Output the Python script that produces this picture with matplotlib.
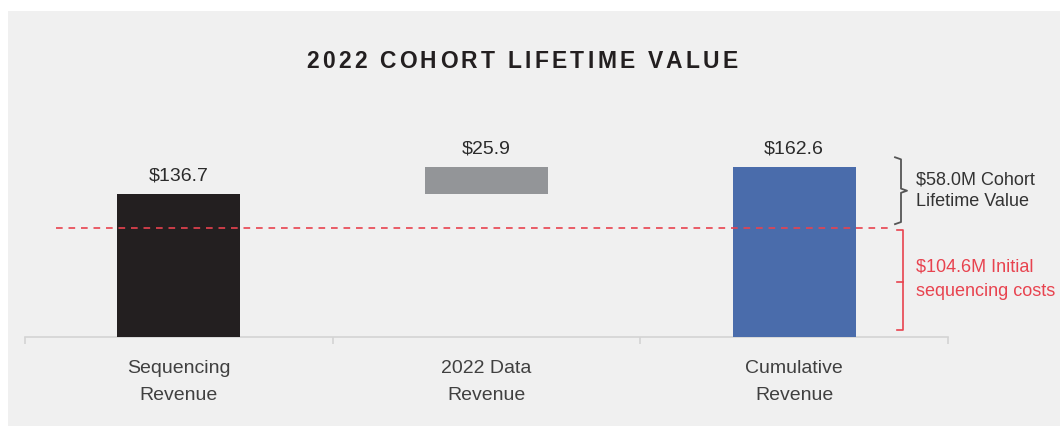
import matplotlib
matplotlib.use("Agg")
import matplotlib.pyplot as plt
from matplotlib.patches import Rectangle
from matplotlib.transforms import blended_transform_factory

# ---------------------------------------------------------------------------
# Data
# ---------------------------------------------------------------------------
categories = ["Sequencing\nRevenue", "2022 Data\nRevenue", "Cumulative\nRevenue"]
sequencing_rev = 136.7
data_rev = 25.9
cumulative_rev = 162.6
initial_costs = 104.6
lifetime_value = 58.0

value_labels = [f"${sequencing_rev:.1f}", f"${data_rev:.1f}", f"${cumulative_rev:.1f}"]
ltv_text = f"${lifetime_value:.1f}M Cohort\nLifetime Value"
cost_text = f"${initial_costs:.1f}M Initial\nsequencing costs"
title = "2022 COHORT LIFETIME VALUE"

BLACK = "#231f20"
GREY = "#939598"
BLUE = "#4a6cab"
RED = "#e8434f"
TEXT = "#2b2b2b"

W, H = 1060, 426
plt.rcParams["font.family"] = ["Liberation Sans", "DejaVu Sans"]

fig = plt.figure(figsize=(W / 100, H / 100), dpi=100)
fig.patch.set_facecolor("white")
fig.patches.append(Rectangle((8 / W, 0), 1 - 8 / W, (H - 11) / H,
                             transform=fig.transFigure, facecolor="#f0f0f0",
                             edgecolor="none", zorder=-10))

# axes: x from 25px to 948px, baseline at y=337px
ax = fig.add_axes([25 / W, (H - 337) / H, 923 / W, 209 / H])
ax.set_facecolor("none")
ax.set_xlim(-0.5, 2.5)
ax.set_ylim(0, 200)

x = [0, 1, 2]
bw = 0.40
ax.bar(x[0], sequencing_rev, width=bw, color=BLACK, zorder=3)
ax.bar(x[1], data_rev, bottom=sequencing_rev, width=bw, color=GREY, zorder=3)
ax.bar(x[2], cumulative_rev, width=bw, color=BLUE, zorder=3)

tops = [sequencing_rev, sequencing_rev + data_rev, cumulative_rev]
for xi, top, lab in zip(x, tops, value_labels):
    ax.annotate(lab, (xi, top), xytext=(0, 7), textcoords="offset points",
                ha="center", va="bottom", fontsize=14, color=TEXT)

# dashed cost line
trans_fx = blended_transform_factory(fig.transFigure, ax.transData)
ax.plot([56 / W, 890 / W], [initial_costs, initial_costs], transform=trans_fx,
        color=RED, linestyle=(0, (4, 3.5)), linewidth=1.2, clip_on=False, zorder=4)

# axis styling
for s in ["top", "right", "left"]:
    ax.spines[s].set_visible(False)
ax.spines["bottom"].set_color("#d4d4d4")
ax.spines["bottom"].set_linewidth(1.2)
ax.set_yticks([])
ax.set_xticks(x)
ax.set_xticklabels(categories, fontsize=14, color="#404040", linespacing=1.8)
ax.tick_params(axis="x", which="major", length=0, pad=16.5)
ax.set_xticks([-0.5, 0.5, 1.5, 2.5], minor=True)
ax.tick_params(axis="x", which="minor", length=5, color="#d4d4d4", width=1.2)

# brackets
bx = 901 / W
dx = 6 / W
gy0, gy1 = 108, 172
gm = (gy0 + gy1) / 2
ax.plot([bx - dx, bx, bx, bx + dx, bx, bx, bx - dx],
        [gy1, gy1 - 2, gm + 2, gm, gm - 2, gy0 + 2, gy0],
        transform=trans_fx, color="#555555", linewidth=1.3, clip_on=False)
rx = 903 / W
ry0, ry1 = 6.5, 102
rm = 52.5
ax.plot([rx - dx, rx, rx, rx - dx], [ry1, ry1, ry0, ry0],
        transform=trans_fx, color=RED, linewidth=1.2, clip_on=False)
ax.plot([rx - dx, rx], [rm, rm], transform=trans_fx, color=RED,
        linewidth=1.2, clip_on=False)

ax.text(916 / W, gm, ltv_text, transform=trans_fx, ha="left", va="center",
        fontsize=13, color="#333333", linespacing=1.4)
ax.text(916 / W, rm + 3, cost_text, transform=trans_fx, ha="left", va="center",
        fontsize=13, color=RED, linespacing=1.55)

# letter-spaced title
renderer = fig.canvas.get_renderer()
cy = (H - 62) / H
target_w = 432
space_w = 16 * 0.278 * 100 / 72
chars = []
widths = []
for ch in title:
    if ch == " ":
        chars.append(None)
        widths.append(space_w)
        continue
    t = fig.text(0, cy, ch, ha="left", va="center", fontsize=16.5,
                 fontweight="bold", color=BLACK)
    chars.append(t)
    widths.append(t.get_window_extent(renderer).width)
track = (target_w - sum(widths)) / (len(title) - 1)
cx = 522 - target_w / 2
for t, w in zip(chars, widths):
    if t is not None:
        t.set_x(cx / W)
    cx += w + track

fig.savefig("out.png", dpi=100)
